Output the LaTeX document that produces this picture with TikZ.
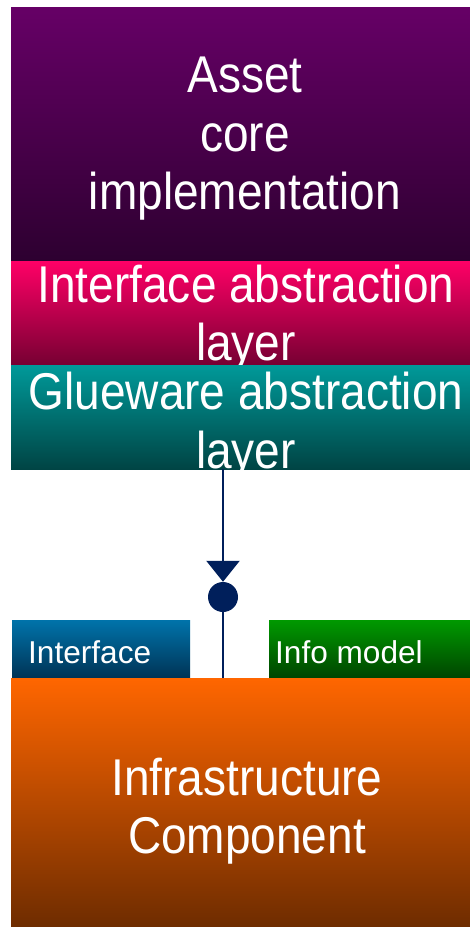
\documentclass[tikz,border=0pt]{standalone}
\usepackage{fontspec}
\setmainfont{Liberation Sans}
\newfontfamily\layerfont[FakeStretch=0.89]{Liberation Sans}
\usetikzlibrary{arrows.meta}
\definecolor{navy}{RGB}{0,31,91}
\begin{document}
\begin{tikzpicture}[x=1pt,y=-1pt,
    layer/.style={rectangle, inner sep=0pt, anchor=north west},
    bigtext/.style={text=white, align=center, inner sep=0pt,
        font=\layerfont\fontsize{51.7}{58.5}\selectfont},
    smalltext/.style={text=white, anchor=base west, inner sep=0pt,
        font=\fontsize{31.6}{36}\selectfont}]
    \useasboundingbox (0,0) rectangle (470,927);
    % stack of layers
    \node[layer, minimum width=459pt, minimum height=254pt,
        top color={rgb,255:red,102;green,0;blue,102}, bottom color={rgb,255:red,45;green,0;blue,48}] (asset) at (11,7) {};
    \node[bigtext] (assettxt) at (245,139) {Asset\\core\\implementation};
    \node[layer, minimum width=459pt, minimum height=104pt,
        top color={rgb,255:red,255;green,0;blue,102}, bottom color={rgb,255:red,118;green,0;blue,50}] (iface) at (11,261) {};
    \node[bigtext] (ifacetxt) at (246,318) {Interface abstraction\\layer};
    \node[layer, minimum width=459pt, minimum height=104pt,
        top color={rgb,255:red,0;green,153;blue,153}, bottom color={rgb,255:red,0;green,68;blue,68}] (glue) at (11,365) {};
    \node[bigtext] (gluetxt) at (246,425.5) {Glueware abstraction\\layer};
    % connector
    \node[circle, fill=navy, inner sep=0pt, minimum size=30pt] (port) at (223,597) {};
    \draw[navy, line width=2.5pt, -{Triangle[width=33pt,length=21pt]}] (port.north |- glue.south) -- (port.north);
    % infrastructure
    \node[layer, minimum width=178pt, minimum height=58pt,
        top color={rgb,255:red,0;green,115;blue,170}, bottom color={rgb,255:red,0;green,51;blue,85}] (ifbox) at (12,620) {};
    \node[smalltext] (iftxt) at (28,663) {Interface};
    \node[layer, minimum width=201pt, minimum height=58pt,
        top color={rgb,255:red,0;green,153;blue,0}, bottom color={rgb,255:red,0;green,68;blue,0}] (info) at (269,620) {};
    \node[smalltext] (infotxt) at (275,663) {Info model};
    \node[layer, minimum width=459pt, minimum height=249pt,
        top color={rgb,255:red,255;green,102;blue,0}, bottom color={rgb,255:red,110;green,44;blue,0}] (infra) at (11,678) {};
    \node[bigtext] (infratxt) at (247,811) {Infrastructure\\Component};
    \draw[navy, line width=2.5pt] (port.south) -- (port.south |- infra.north);
\end{tikzpicture}
\end{document}
